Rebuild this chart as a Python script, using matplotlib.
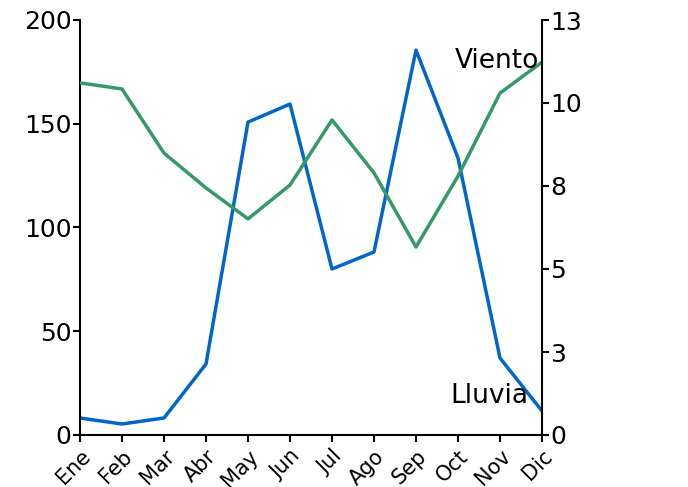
import matplotlib
matplotlib.use('Agg')
import matplotlib.pyplot as plt
from matplotlib.ticker import FuncFormatter
import numpy as np

# data
meses = ['Ene', 'Feb', 'Mar', 'Abr', 'May', 'Jun', 'Jul', 'Ago', 'Sep', 'Oct', 'Nov', 'Dic']
lluvia = [8.2, 5.3, 8.2, 34.2, 150.8, 159.5, 80.0, 88.2, 185.5, 133.5, 37.1, 11.6]
viento = [11.03, 10.84, 8.83, 7.74, 6.77, 7.83, 9.87, 8.21, 5.89, 8.11, 10.71, 11.68]

azul = '#0066cc'
verde = '#339966'

fig = plt.figure(figsize=(6.88, 4.87), dpi=100)
ax = fig.add_axes([80/688, 1 - 435/487, 462/688, 415/487])
ax2 = ax.twinx()

x = np.arange(len(meses))
ax.plot(x, lluvia, color=azul, linewidth=2.5)
ax2.plot(x, viento, color=verde, linewidth=2.5)

ax.set_xlim(0, len(meses) - 1)
ax.set_ylim(0, 200)
ax.set_yticks([0, 50, 100, 150, 200])
ax2.set_ylim(0, 13)
ax2.set_yticks(np.linspace(0, 13, 6))
ax2.yaxis.set_major_formatter(FuncFormatter(lambda v, p: '%d' % round(v)))

ax.set_xticks(x)
ax.set_xticklabels(meses, rotation=45, ha='right', rotation_mode='anchor')

for a in (ax, ax2):
    a.spines['top'].set_visible(False)
    for s in a.spines.values():
        s.set_linewidth(1.5)
    a.tick_params(axis='both', direction='out', length=5, width=1.5, labelsize=18, pad=1)
ax.tick_params(axis='x', labelsize=15, pad=3)
ax.spines['right'].set_visible(False)
ax2.spines['left'].set_visible(False)
ax2.spines['bottom'].set_visible(False)

ax2.annotate('Viento', xy=(x[-1], viento[-1]), xytext=(-2, 1), textcoords='offset points',
             ha='right', va='center', fontsize=19)
ax.annotate('Lluvia', xy=(x[-1], lluvia[-1]), xytext=(-10, 11), textcoords='offset points',
            ha='right', va='center', fontsize=19)

plt.savefig('out.png', dpi=100)
